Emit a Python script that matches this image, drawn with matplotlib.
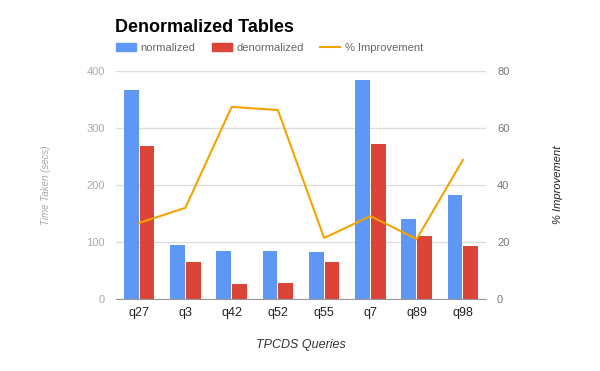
import numpy as np
import matplotlib
matplotlib.use("Agg")
import matplotlib.pyplot as plt
from matplotlib.patches import Patch
from matplotlib.lines import Line2D

plt.rcParams['font.family'] = ['Liberation Sans', 'DejaVu Sans']

queries = ['q27', 'q3', 'q42', 'q52', 'q55', 'q7', 'q89', 'q98']
normalized = [367, 95, 84, 84, 82, 384, 140, 182]
denormalized = [268, 65, 26, 28, 65, 272, 110, 93]
improvement = [26.7, 32.0, 67.4, 66.3, 21.4, 29.1, 21.0, 48.8]

blue = '#5e97f6'
red = '#db4437'
orange = '#f4a300'

fig = plt.figure(figsize=(6, 3.71), dpi=100)
ax = fig.add_axes([116 / 600, 1 - 299 / 371, 370 / 600, 228 / 371])

x = np.arange(len(queries))
w = 0.32
ax.bar(x - w / 2 - 0.01, normalized, w, color=blue, zorder=2)
ax.bar(x + w / 2 + 0.01, denormalized, w, color=red, zorder=2)
ax.set_xlim(-0.5, len(queries) - 0.5)
ax.set_ylim(0, 400)
ax.set_yticks([0, 100, 200, 300, 400])
ax.yaxis.grid(True, color='#dddddd', linewidth=1, zorder=0)
ax.set_axisbelow(True)
for s in ['top', 'right', 'left']:
    ax.spines[s].set_visible(False)
ax.spines['bottom'].set_color('#999999')
ax.tick_params(axis='y', length=0, labelsize=8, labelcolor='#aaaaaa', pad=8)
ax.tick_params(axis='x', length=0, labelsize=9, labelcolor='#222222', pad=6)
ax.set_xticks(x)
ax.set_xticklabels(queries)
ax.set_ylabel('Time Taken (secs)', fontsize=7, style='italic', color='#aaaaaa')
ax.yaxis.set_label_coords((51 - 116) / 370, 0.5)
ax.set_xlabel('TPCDS Queries', fontsize=9, style='italic', color='#333333', labelpad=14)

ax2 = ax.twinx()
ax2.plot(x, improvement, color=orange, linewidth=1.5, zorder=3)
ax2.set_ylim(0, 80)
ax2.set_yticks([0, 20, 40, 60, 80])
for s in ax2.spines.values():
    s.set_visible(False)
ax2.tick_params(axis='y', length=0, labelsize=8, labelcolor='#777777', pad=8)
ax2.set_ylabel('% Improvement', fontsize=8, style='italic', color='#222222')
ax2.yaxis.set_label_coords((553 - 116) / 370, 0.5)

fig.text(115 / 600, 1 - 27 / 371, 'Denormalized Tables', fontsize=13, fontweight='bold',
         va='center', ha='left', color='#000000')

handles = [Patch(color=blue), Patch(color=red), Line2D([], [], color=orange, linewidth=1.5)]
labels = ['normalized', 'denormalized', '% Improvement']
fig.legend(handles, labels, loc='center left', bbox_to_anchor=(106 / 600, 1 - 48 / 371),
           ncol=3, frameon=False, fontsize=8, labelcolor='#666666',
           handlelength=1.8, handleheight=0.8, handletextpad=0.4, columnspacing=1.5)

fig.savefig('out.png', dpi=100)
